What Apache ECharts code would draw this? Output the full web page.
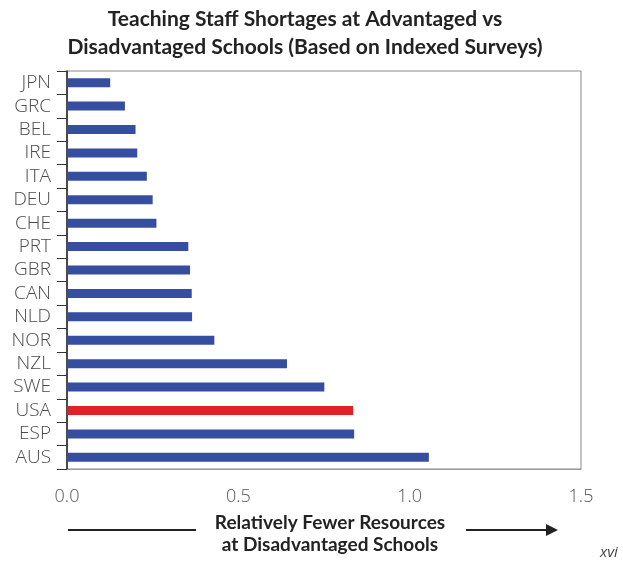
<!DOCTYPE html>
<html>
<head>
<meta charset="utf-8">
<script src="https://cdn.jsdelivr.net/npm/echarts@6/dist/echarts.min.js"></script>
<style>html,body{margin:0;padding:0;background:#fff}#c{width:623px;height:563px}</style>
</head>
<body>
<div id="c"></div>
<script>
const countries = ["JPN","GRC","BEL","IRE","ITA","DEU","CHE","PRT","GBR","CAN","NLD","NOR","NZL","SWE","USA","ESP","AUS"];
const values = [0.126,0.169,0.200,0.205,0.233,0.250,0.261,0.354,0.359,0.364,0.365,0.430,0.642,0.751,0.835,0.838,1.056];
const highlighted = ["USA"];
const xTicks = [0, 0.5, 1.0, 1.5];

const BLUE = "#364ea0", RED = "#e01f26";
const chart = echarts.init(document.getElementById('c'), null, {renderer:'canvas'});
const data = countries.map((c,i)=>({value:values[i], itemStyle:{color: highlighted.includes(c)?RED:BLUE}}));

chart.setOption({
  animation:false,
  title:{
    text:"Teaching Staff Shortages at Advantaged vs\nDisadvantaged Schools (Based on Indexed Surveys)",
    left:300, top:0, textAlign:'center',
    textStyle:{fontFamily:"Lato", fontWeight:'bold', fontSize:21, color:'#222', lineHeight:28}
  },
  grid:{left:67, top:71, right:42, bottom:94, show:true, borderColor:'#888', borderWidth:1},
  xAxis:{
    type:'value', min:xTicks[0], max:xTicks[xTicks.length-1], interval:0.5,
    axisLine:{show:true, lineStyle:{color:'#999'}},
    axisTick:{show:false}, splitLine:{show:false},
    axisLabel:{margin:19, fontFamily:"Open Sans", fontWeight:300, fontSize:18, color:'#555',
      formatter:v=>v.toFixed(1)}
  },
  yAxis:{
    type:'category', data:countries, inverse:true,
    axisLine:{show:true, lineStyle:{color:'#222', width:1.5}},
    axisTick:{show:true, length:10, interval:0, lineStyle:{color:'#333'}},
    axisLabel:{margin:16, interval:0, hideOverlap:false, fontFamily:"Open Sans", fontWeight:300, fontSize:19, color:'#4a4a4a'}
  },
  series:[{type:'bar', data:data, barWidth:9}],
  graphic:[
    {type:'text', style:{text:"Relatively Fewer Resources\nat Disadvantaged Schools", x:330, y:512, textAlign:'center',
      font:"bold 19px Lato", fill:'#222', lineHeight:22}},
    {type:'line', shape:{x1:68,y1:530,x2:196,y2:530}, style:{stroke:'#222', lineWidth:2}},
    {type:'line', shape:{x1:466,y1:530,x2:548,y2:530}, style:{stroke:'#222', lineWidth:2}},
    {type:'polygon', shape:{points:[[546,524],[558,530],[546,536]]}, style:{fill:'#222'}},
    {type:'text', style:{text:"xvi", x:600, y:545, font:"italic 15px 'Open Sans'", fill:'#444'}}
  ]
});
</script>
</body>
</html>
